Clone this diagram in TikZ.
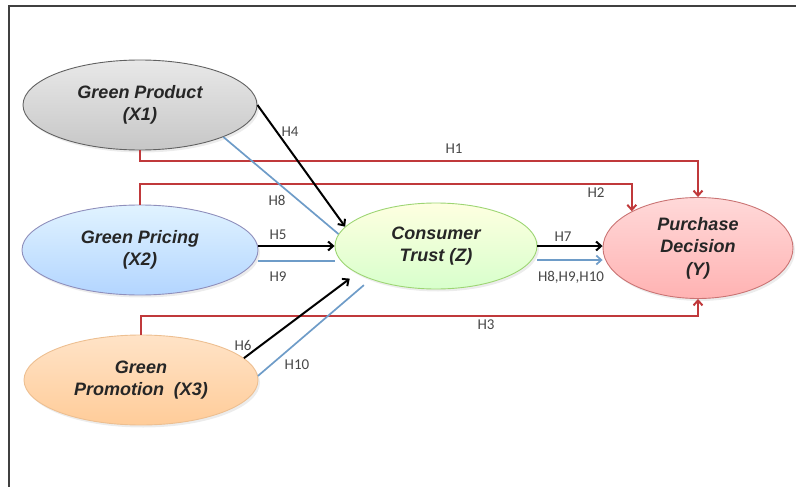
\documentclass[tikz,border=0pt]{standalone}
\usepackage{fontspec}
\usepackage{tikz}
\usetikzlibrary{shapes.geometric,arrows.meta,shadows}
\newfontfamily\varfont{Liberation Sans}
\newfontfamily\hypfont{Carlito}
\definecolor{hred}{HTML}{C0393B}
\definecolor{hblue}{HTML}{6E9CC8}
\definecolor{framegray}{HTML}{404040}

\begin{document}
\begin{tikzpicture}[x=1pt,y=-1pt,
    >={Straight Barb[length=5pt,width=9pt]},
    var/.style={ellipse, draw, line width=0.9pt, inner sep=0pt, align=center,
        font=\varfont\bfseries\itshape\fontsize{18}{22.5}\selectfont, text=black!85,
        drop shadow={opacity=0.15, shadow xshift=2pt, shadow yshift=-2.5pt}},
    hyp/.style={font=\hypfont\fontsize{15}{17}\selectfont, text=black!72, inner sep=0pt},
    direct/.style={->, hred, line width=2pt},
    path/.style={->, black, line width=2pt},
    med/.style={hblue, line width=1.7pt}]
    \useasboundingbox (0,0) rectangle (796,487);
    \draw[framegray, line width=2pt] (9,487) -- (9,6) -- (796,6);

    \node[var, minimum width=234pt, minimum height=90pt, draw=black!62,
        top color=black!9, bottom color=black!22] (prod) at (140,105) {Green Product\\(X1)};
    \node[var, minimum width=236pt, minimum height=90pt, draw=blue!25!gray!70,
        top color=blue!40!cyan!12, bottom color=blue!55!cyan!30] (pric) at (140,250) {Green Pricing\\(X2)};
    \node[var, minimum width=234pt, minimum height=90pt, draw=orange!45!brown!50,
        top color=orange!22, bottom color=orange!40] (prom) at (141,380) {Green\\Promotion~~(X3)};
    \node[var, minimum width=202pt, minimum height=86pt, draw=green!40!olive!55,
        top color=lime!10!yellow!12, bottom color=lime!30!green!20] (trust) at (436,246) {Consumer\\Trust (Z)};
    \node[var, minimum width=190pt, minimum height=101pt, draw=red!45!gray!75,
        top color=red!15, bottom color=red!30] (dec) at (698,248) {Purchase\\Decision\\(Y)};

    \draw[direct] (prod.south) -- ++(0,11) -| (dec.north);
    \draw[direct] (pric.north) -- ++(0,-21) -| (dec.151);
    \draw[direct] (prom.north) -- ++(0,-19) -| (dec.south);

    \draw[med] (prod.-21) -- (trust.173);
    \draw[path] (prod.east) -- (trust.168);
    \coordinate (h9) at ([yshift=-15pt]trust.west);
    \draw[path] (pric.east |- trust.west) -- (trust.west);
    \draw[med] (h9 -| pric.east) -- (h9);
    \draw[path, shorten >=9pt] (prom.12) -- (trust.199);
    \draw[med, shorten >=9pt] (prom.2) -- (trust.207);

    \coordinate (h8) at ([yshift=-14pt]trust.east);
    \draw[path] (trust.east) -- (trust.east -| dec.west);
    \draw[med, ->] (h8) -- (h8 -| dec.west);

    \node[hyp] (l1) at (454,149) {H1};
    \node[hyp] (l2) at (596,193) {H2};
    \node[hyp] (l3) at (486,325) {H3};
    \node[hyp] (l4) at (290,132) {H4};
    \node[hyp] (l5) at (278,235) {H5};
    \node[hyp] (l6) at (243,345) {H6};
    \node[hyp] (l7) at (563,237) {H7};
    \node[hyp] (l8) at (277,200) {H8};
    \node[hyp] (l9) at (278,277) {H9};
    \node[hyp] (l10) at (297,365) {H10};
    \node[hyp] (l11) at (571,277) {H8,H9,H10};
\end{tikzpicture}
\end{document}
